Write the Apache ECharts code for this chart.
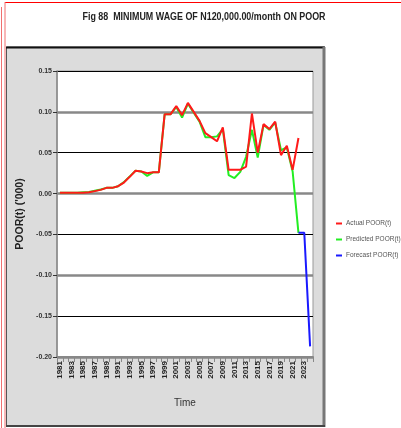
<!DOCTYPE html>
<html><head><meta charset="utf-8">
<script src="https://cdn.jsdelivr.net/npm/echarts@6/dist/echarts.min.js"></script>
<style>html,body{margin:0;padding:0;background:#fff}#c{width:401px;height:428px}</style>
</head><body><div id="c"></div>
<script>
const years = ['1981','1982','1983','1984','1985','1986','1987','1988','1989','1990','1991','1992','1993','1994','1995','1996','1997','1998','1999','2000','2001','2002','2003','2004','2005','2006','2007','2008','2009','2010','2011','2012','2013','2014','2015','2016','2017','2018','2019','2020','2021','2022','2023','2024'];
const actualPoor = [0.001,0.001,0.001,0.001,0.001,0.0015,0.003,0.0045,0.007,0.007,0.009,0.0135,0.0205,0.028,0.027,0.025,0.026,0.026,0.097,0.097,0.107,0.096,0.111,0.100,0.089,0.074,0.069,0.064,0.081,0.029,0.029,0.029,0.033,0.098,0.050,0.085,0.079,0.088,0.047,0.0585,0.029,0.068,null,null];
const predictedPoor = [0.001,0.001,0.001,0.001,0.0015,0.002,0.0035,0.005,0.007,0.007,0.009,0.014,0.021,0.028,0.027,0.0217,0.026,0.026,0.097,0.097,0.106,0.093,0.110,0.099,0.088,0.069,0.069,0.070,0.079,0.0225,0.019,0.0266,0.045,0.078,0.044,0.084,0.078,0.087,0.053,0.0565,0.027,-0.048,null,null];
const forecastPoor = [null,null,null,null,null,null,null,null,null,null,null,null,null,null,null,null,null,null,null,null,null,null,null,null,null,null,null,null,null,null,null,null,null,null,null,null,null,null,null,null,null,-0.048,-0.048,-0.187];
const yMin = -0.20, yMax = 0.15, yStep = 0.05;
const titleText = 'Fig 88  MINIMUM WAGE OF N120,000.00/month ON POOR';

const SANS = '"Liberation Sans",Arial,sans-serif';
const chart = echarts.init(document.getElementById('c'), null, {renderer:'canvas'});
chart.setOption({
  animation:false,
  backgroundColor:'#fff',
  graphic:[
    {type:'rect', z:-10, shape:{x:6.5,y:47,width:318,height:379}, style:{fill:'#dcdcdc', stroke:'#555', lineWidth:1}},
    {type:'line', z:-9, shape:{x1:6,y1:47.5,x2:325,y2:47.5}, style:{stroke:'#111', lineWidth:2}},
    {type:'line', z:-9, shape:{x1:324,y1:47,x2:324,y2:427}, style:{stroke:'#777', lineWidth:3}},
    {type:'line', z:-9, shape:{x1:6,y1:426,x2:325,y2:426}, style:{stroke:'#444', lineWidth:2}},
    {type:'line', z:-9, shape:{x1:5,y1:2.5,x2:401,y2:2.5}, style:{stroke:'#ff0000', lineWidth:1}},
    {type:'line', z:-9, shape:{x1:5,y1:2,x2:5,y2:428}, style:{stroke:'#f07070', lineWidth:1}},
    {type:'line', z:-9, shape:{x1:1.5,y1:7,x2:1.5,y2:428}, style:{stroke:'#f07070', lineWidth:1}},
    {type:'text', z:10, x:204, y:17, scaleX:0.81,
     style:{text:titleText, font:'bold 11px "Liberation Sans", Arial, sans-serif', fill:'#222',
            textAlign:'center', textVerticalAlign:'middle'}}
  ],
  legend:{orient:'vertical', left:331, top:215, itemWidth:6, itemHeight:2, itemGap:9, icon:'rect',
    textStyle:{fontFamily:SANS, fontSize:6.5, color:'#555', padding:[0,0,0,-1]},
    data:['Actual POOR(t)','Predicted POOR(t)','Forecast POOR(t)']},
  grid:{left:57, right:88, top:71, bottom:71, show:true, backgroundColor:'#fff', borderColor:'#999', borderWidth:1},
  xAxis:{type:'category', data:years, boundaryGap:true,
    name:'Time', nameLocation:'middle', nameGap:41,
    nameTextStyle:{fontFamily:SANS, fontSize:10, color:'#333'},
    axisLine:{onZero:false, lineStyle:{color:'#888', width:2}},
    axisTick:{show:true, interval:0, length:5, lineStyle:{color:'#888'}},
    axisLabel:{interval:1, rotate:90, fontFamily:SANS, fontSize:8, fontWeight:'bold', color:'#222', margin:4}},
  yAxis:[
    {type:'value', min:yMin, max:yMax, interval:yStep,
     name:"POOR(t) ('000)", nameLocation:'middle', nameGap:30, nameRotate:90,
     nameTextStyle:{fontFamily:SANS, fontSize:10.5, fontWeight:'bold', color:'#222'},
     axisLine:{show:true, lineStyle:{color:'#888', width:1.5}},
     axisTick:{show:true, length:4, lineStyle:{color:'#333'}},
     axisLabel:{fontFamily:SANS, fontSize:7, fontWeight:'bold', color:'#333', margin:5,
       formatter:v=>v.toFixed(2)},
     splitLine:{show:true, lineStyle:{color:['#888','#000'], width:1}}},
    {type:'value', min:yMin, max:yMax, interval:yStep, show:true,
     axisLine:{show:false}, axisTick:{show:false}, axisLabel:{show:false},
     splitLine:{show:true, lineStyle:{color:['#888','rgba(0,0,0,0)'], width:2.5}}}
  ],
  series:[
    {name:'Predicted POOR(t)', type:'line', data:predictedPoor, showSymbol:false, symbol:'none',
     lineStyle:{color:'#22ee22', width:2}, itemStyle:{color:'#22ee22'}, z:3},
    {name:'Actual POOR(t)', type:'line', data:actualPoor, showSymbol:false, symbol:'none',
     lineStyle:{color:'#ff1a1a', width:2}, itemStyle:{color:'#ff1a1a'}, z:4},
    {name:'Forecast POOR(t)', type:'line', data:forecastPoor, showSymbol:false, symbol:'none',
     lineStyle:{color:'#1a1aff', width:2}, itemStyle:{color:'#1a1aff'}, z:5}
  ]
});
</script></body></html>
